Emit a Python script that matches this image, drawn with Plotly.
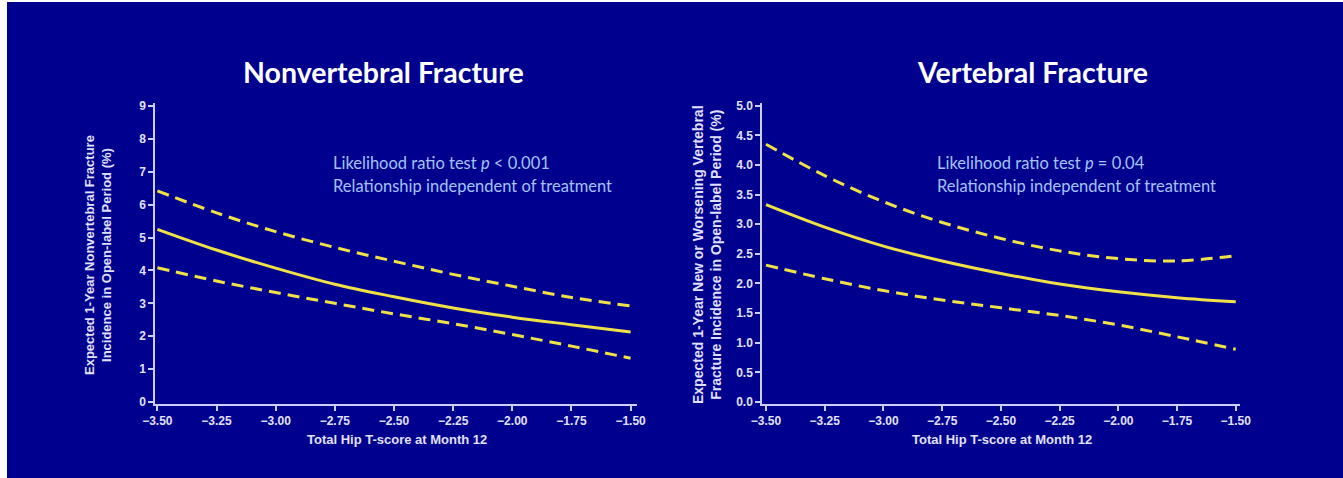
import plotly.graph_objects as go

W, H = 1343, 478

# ---- data ----
t_score = [-3.5, -3.25, -3.0, -2.75, -2.5, -2.25, -2.0, -1.75, -1.5]

nonvert_mid = [5.25, 4.62, 4.07, 3.58, 3.20, 2.86, 2.58, 2.35, 2.13]
nonvert_upper = [6.42, 5.75, 5.18, 4.70, 4.28, 3.88, 3.52, 3.18, 2.92]
nonvert_lower = [4.08, 3.68, 3.33, 3.00, 2.68, 2.38, 2.05, 1.70, 1.33]

vert_mid = [3.33, 2.95, 2.63, 2.38, 2.17, 1.99, 1.86, 1.76, 1.69]
vert_upper = [4.35, 3.82, 3.38, 3.03, 2.76, 2.55, 2.42, 2.38, 2.47]
vert_lower = [2.31, 2.08, 1.88, 1.72, 1.59, 1.46, 1.30, 1.10, 0.89]

x_ticks = [-3.5, -3.25, -3.0, -2.75, -2.5, -2.25, -2.0, -1.75, -1.5]
y_ticks_left = [0, 1, 2, 3, 4, 5, 6, 7, 8, 9]
y_ticks_right = [0.0, 0.5, 1.0, 1.5, 2.0, 2.5, 3.0, 3.5, 4.0, 4.5, 5.0]

titles = ["Nonvertebral Fracture", "Vertebral Fracture"]
x_title = "Total Hip T-score at Month 12"
y_titles = [
    "Expected 1-Year Nonvertebral Fracture<br>Incidence in Open-label Period (%)",
    "Expected 1-Year New or Worsening Vertebral<br>Fracture Incidence in Open-label Period (%)",
]
notes_line1 = ["Likelihood ratio test <i>p</i> < 0.001", "Likelihood ratio test <i>p</i> = 0.04"]
notes_line2 = ["Relationship independent of treatment", "Relationship independent of treatment"]

# ---- style ----
BG = "rgb(0,0,142)"
YELLOW = "rgb(240,225,70)"
AXC = "rgb(205,205,255)"
TXT = "rgb(225,225,255)"
NOTE = "rgb(165,195,250)"
DASH = "12px,7px"


def px_x(p):
    return p / W


def px_y(p):
    return 1 - p / H


fig = go.Figure()

panels = [
    dict(xa="x", ya="y", mid=nonvert_mid, up=nonvert_upper, lo=nonvert_lower),
    dict(xa="x2", ya="y2", mid=vert_mid, up=vert_upper, lo=vert_lower),
]
for p in panels:
    for ys, dash in [(p["up"], DASH), (p["lo"], DASH), (p["mid"], "solid")]:
        fig.add_trace(go.Scatter(
            x=t_score, y=ys, mode="lines", xaxis=p["xa"], yaxis=p["ya"],
            line=dict(color=YELLOW, width=3, dash=dash, shape="spline", smoothing=1.0),
            showlegend=False, hoverinfo="skip"))

tickfont = dict(family="Liberation Sans, Arial", size=12, color=TXT, weight="bold")
common_x = dict(
    tickvals=x_ticks, tickformat=".2f", ticks="outside", ticklen=5, tickwidth=1.5,
    tickcolor=AXC, showline=True, linecolor=AXC, linewidth=1.5, showgrid=False,
    zeroline=False, tickfont=tickfont, fixedrange=True, automargin=False,
)
common_y = dict(
    ticks="outside", ticklen=5, tickwidth=1.5, tickcolor=AXC, showline=True,
    linecolor=AXC, linewidth=1.5, showgrid=False, zeroline=False, tickfont=tickfont,
    fixedrange=True, automargin=False,
)

yd = [px_y(404), px_y(103)]
fig.update_layout(
    xaxis=dict(domain=[px_x(155), px_x(637)], range=[-3.51, -1.473], anchor="y", **common_x),
    yaxis=dict(domain=yd, range=[-0.06, 9.09], tickvals=y_ticks_left, tickformat="d",
               anchor="x", **common_y),
    xaxis2=dict(domain=[px_x(762), px_x(1240)], range=[-3.517, -1.482], anchor="y2", **common_x),
    yaxis2=dict(domain=yd, range=[-0.034, 5.046], tickvals=y_ticks_right, tickformat=".1f",
                anchor="x2", **common_y),
)

annotations = []
title_x = [383, 1032]
ytitle_x = [98, 707]
ytitle_size = [13, 14]
xtitle_x = [397, 1002]
note_x = [331, 935]
for i in range(2):
    annotations.append(dict(
        text=f"<b>{titles[i]}</b>", x=px_x(title_x[i]), y=px_y(72), xref="paper", yref="paper",
        xanchor="center", yanchor="middle", showarrow=False,
        font=dict(family="Lato", size=28.5, color="white")))
    annotations.append(dict(
        text=f"<b>{x_title}</b>", x=px_x(xtitle_x[i]), y=px_y(439), xref="paper", yref="paper",
        xanchor="center", yanchor="middle", showarrow=False,
        font=dict(family="Liberation Sans, Arial", size=13, color=TXT)))
    annotations.append(dict(
        text=f"<b>{y_titles[i]}</b>", x=px_x(ytitle_x[i]), y=px_y(255), xref="paper", yref="paper",
        xanchor="center", yanchor="middle", showarrow=False, textangle=-90,
        font=dict(family="Liberation Sans, Arial", size=ytitle_size[i], color=TXT)))
    annotations.append(dict(
        text=notes_line1[i], x=px_x(note_x[i]), y=px_y(163), xref="paper", yref="paper",
        xanchor="left", yanchor="middle", showarrow=False,
        font=dict(family="Lato", size=16.5, color=NOTE)))
    annotations.append(dict(
        text=notes_line2[i], x=px_x(note_x[i]), y=px_y(186), xref="paper", yref="paper",
        xanchor="left", yanchor="middle", showarrow=False,
        font=dict(family="Lato", size=16.5, color=NOTE)))

shapes = [
    dict(type="rect", xref="paper", yref="paper", x0=-0.01, x1=px_x(7), y0=-0.01, y1=1.01,
         fillcolor="white", line=dict(width=0), layer="above"),
    dict(type="rect", xref="paper", yref="paper", x0=-0.01, x1=1.01, y0=px_y(2), y1=1.01,
         fillcolor="white", line=dict(width=0), layer="above"),
]

fig.update_layout(
    template="none",
    width=W, height=H, margin=dict(l=0, r=0, t=0, b=0, pad=0), autosize=False,
    paper_bgcolor=BG, plot_bgcolor=BG, annotations=annotations, shapes=shapes,
    showlegend=False,
)

fig.write_html(
    "out.html",
    config={"displayModeBar": False, "responsive": False},
    post_script="document.body.style.margin='0';document.body.style.padding='0';"
                "document.body.style.overflow='hidden';",
)
